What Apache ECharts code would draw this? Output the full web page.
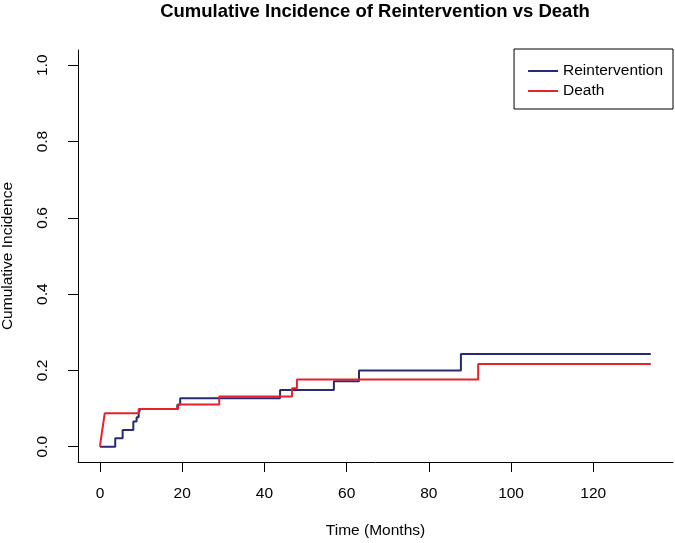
<!DOCTYPE html>
<html>
<head>
<meta charset="utf-8">
<script src="https://cdn.jsdelivr.net/npm/echarts@6/dist/echarts.min.js"></script>
<style>
html,body{margin:0;padding:0;background:#fff;}
#chart{width:675px;height:543px;}
</style>
</head>
<body>
<div id="chart"></div>
<script>
// Data
const seriesNames = ['Reintervention', 'Death'];
const reinterventionTime = [0, 3.7, 5.5, 8.1, 8.9, 9.4, 9.8, 18.8, 19.5, 43.8, 56.9, 63.0, 87.8, 134];
const reinterventionCI   = [0, 0.022, 0.044, 0.066, 0.077, 0.088, 0.099, 0.110, 0.127, 0.149, 0.172, 0.200, 0.243, 0.243];
const deathTime = [0, 0.1, 0.25, 0.4, 0.55, 0.7, 0.85, 1.0, 1.15, 9.4, 19.0, 29.0, 46.7, 47.9, 92.0, 134];
const deathCI   = [0, 0.011, 0.022, 0.033, 0.044, 0.055, 0.066, 0.077, 0.088, 0.099, 0.111, 0.132, 0.153, 0.176, 0.217, 0.217];
const xTicks = [0, 20, 40, 60, 80, 100, 120];
const yTicks = [0, 0.2, 0.4, 0.6, 0.8, 1.0];

const FONT = '"Liberation Sans", Arial, Helvetica, sans-serif';
const pairs = (xs, ys) => xs.map((x, i) => [x, ys[i]]);

const chart = echarts.init(document.getElementById('chart'), null, {renderer: 'canvas'});
chart.setOption({
  animation: false,
  backgroundColor: '#ffffff',
  title: {
    text: 'Cumulative Incidence of Reintervention vs Death',
    left: 375, top: 2, textAlign: 'center', padding: 0,
    textStyle: {fontFamily: FONT, fontSize: 18.5, fontWeight: 'bold', color: '#000'}
  },
  legend: {
    data: seriesNames,
    orient: 'vertical',
    right: 2, top: 49,
    borderColor: '#000', borderWidth: 1, borderRadius: 0,
    padding: [14, 10, 10, 14],
    icon: 'rect',
    itemWidth: 30, itemHeight: 2, itemGap: 4,
    textStyle: {fontFamily: FONT, fontSize: 15.5, lineHeight: 16, color: '#000'}
  },
  grid: {left: 78, right: 2, top: 50, bottom: 81, containLabel: false, outerBoundsMode: 'none'},
  xAxis: {
    type: 'value', min: -5.36, max: 139.4,
    name: 'Time (Months)', nameLocation: 'middle', nameGap: 61,
    nameTextStyle: {fontFamily: FONT, fontSize: 15.5, color: '#000'},
    axisLine: {show: true, onZero: false, lineStyle: {color: '#000', width: 1}},
    axisTick: {show: true, length: 10, customValues: xTicks, lineStyle: {color: '#000'}},
    axisLabel: {customValues: xTicks, fontFamily: FONT, fontSize: 15.5, color: '#000', margin: 24},
    splitLine: {show: false}
  },
  yAxis: {
    type: 'value', min: -0.04, max: 1.04,
    name: 'Cumulative Incidence', nameLocation: 'middle', nameGap: 62, nameRotate: 90,
    nameTextStyle: {fontFamily: FONT, fontSize: 15.5, color: '#000'},
    axisLine: {show: true, onZero: false, lineStyle: {color: '#000', width: 1}},
    axisTick: {show: true, length: 10, customValues: yTicks, lineStyle: {color: '#000'}},
    axisLabel: {customValues: yTicks, rotate: 90, fontFamily: FONT, fontSize: 15.5, color: '#000', margin: 27,
      formatter: v => Number(v).toFixed(1)},
    splitLine: {show: false}
  },
  series: [
    {name: seriesNames[0], type: 'line', step: 'end', symbol: 'none', showSymbol: false,
     data: pairs(reinterventionTime, reinterventionCI),
     lineStyle: {color: '#272a72', width: 2}, itemStyle: {color: '#272a72'}},
    {name: seriesNames[1], type: 'line', step: 'end', symbol: 'none', showSymbol: false,
     data: pairs(deathTime, deathCI),
     lineStyle: {color: '#e4232a', width: 2}, itemStyle: {color: '#e4232a'}}
  ]
});
</script>
</body>
</html>
